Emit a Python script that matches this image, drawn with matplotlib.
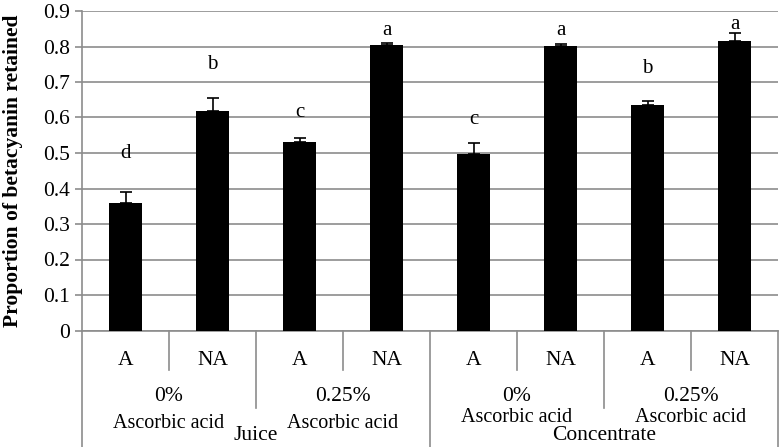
import numpy as np
import matplotlib.pyplot as plt
import matplotlib.transforms as mtransforms

plt.rcParams['font.family'] = ['Liberation Serif', 'DejaVu Serif']

# data
treat = ["A", "NA", "A", "NA", "A", "NA", "A", "NA"]
conc = ["0%\nAscorbic acid", "0.25%\nAscorbic acid",
        "0%\nAscorbic acid", "0.25%\nAscorbic acid"]
product = ["Juice", "Concentrate"]
values = [0.358, 0.619, 0.530, 0.804, 0.496, 0.801, 0.635, 0.816]
errors = [0.032, 0.036, 0.013, 0.005, 0.031, 0.006, 0.011, 0.023]
letters = ["d", "b", "c", "a", "c", "a", "b", "a"]
letter_y = [0.50, 0.748, 0.615, 0.846, 0.595, 0.846, 0.739, 0.863]

grey = "#8c8c8c"
fs = 15.5

fig = plt.figure(figsize=(7.82, 4.47), dpi=100)
ax = fig.add_axes([82 / 782, 1 - 330.5 / 447, 696 / 782, 319.5 / 447])

x = np.arange(len(values))
ax.bar(x, values, width=0.39, color="black", zorder=3)
ax.errorbar(x, values, yerr=[np.zeros(len(errors)), errors], fmt="none",
            ecolor="black", elinewidth=1.2, capsize=4, capthick=1.2, zorder=4)

for xi, l, ly in zip(x, letters, letter_y):
    ax.text(xi, ly, l, ha="center", va="center", fontsize=15)

ax.set_xlim(-0.5, 7.5)
ax.set_ylim(0, 0.9)
ax.set_yticks(np.arange(0, 0.91, 0.1))
ax.set_yticklabels(["0"] + ["%.1f" % v for v in np.arange(0.1, 0.91, 0.1)])
ax.yaxis.grid(True, color=grey, linewidth=1.2, zorder=0)
ax.set_axisbelow(True)
ax.tick_params(axis="y", labelsize=fs, color=grey, length=5, width=1.2)
ax.set_xticks([])
for s in ["top", "right"]:
    ax.spines[s].set_visible(False)
ax.spines["left"].set_color(grey)
ax.spines["bottom"].set_color(grey)
ax.spines["left"].set_linewidth(1.2)
ax.spines["bottom"].set_linewidth(1.2)

ax.set_ylabel("Proportion of betacyanin retained", fontsize=fs,
              fontweight="bold")
ax.yaxis.set_label_coords(-0.085, 0.5)

# multi-level category axis
tr = mtransforms.blended_transform_factory(ax.transData, ax.transAxes)
short_y, mid_y, long_y = -0.1236, -0.2426, -0.365
for xs in [0.5, 2.5, 4.5, 6.5]:
    ax.plot([xs, xs], [0, short_y], transform=tr, color=grey, lw=1.2, clip_on=False)
for xs in [1.5, 5.5]:
    ax.plot([xs, xs], [0, mid_y], transform=tr, color=grey, lw=1.2, clip_on=False)
for xs in [-0.5, 3.5, 7.5]:
    ax.plot([xs, xs], [0, long_y], transform=tr, color=grey, lw=1.2, clip_on=False)

for xi, t in zip(x, treat):
    ax.text(xi, -0.094, t, transform=tr, ha="center", va="center", fontsize=fs)

conc_pos = [0.5, 2.5, 4.5, 6.5]
for i, (xc, c) in enumerate(zip(conc_pos, conc)):
    top, bottom = c.split("\n")
    ax.text(xc, -0.207, top, transform=tr, ha="center", va="center", fontsize=fs)
    by = -0.290 if i < 2 else -0.272
    ax.text(xc, by, bottom, transform=tr, ha="center", va="center", fontsize=14.5)

for xp, p in zip([1.5, 5.5], product):
    ax.text(xp, -0.328, p, transform=tr, ha="center", va="center", fontsize=fs)

fig.savefig("out.png", dpi=100)
